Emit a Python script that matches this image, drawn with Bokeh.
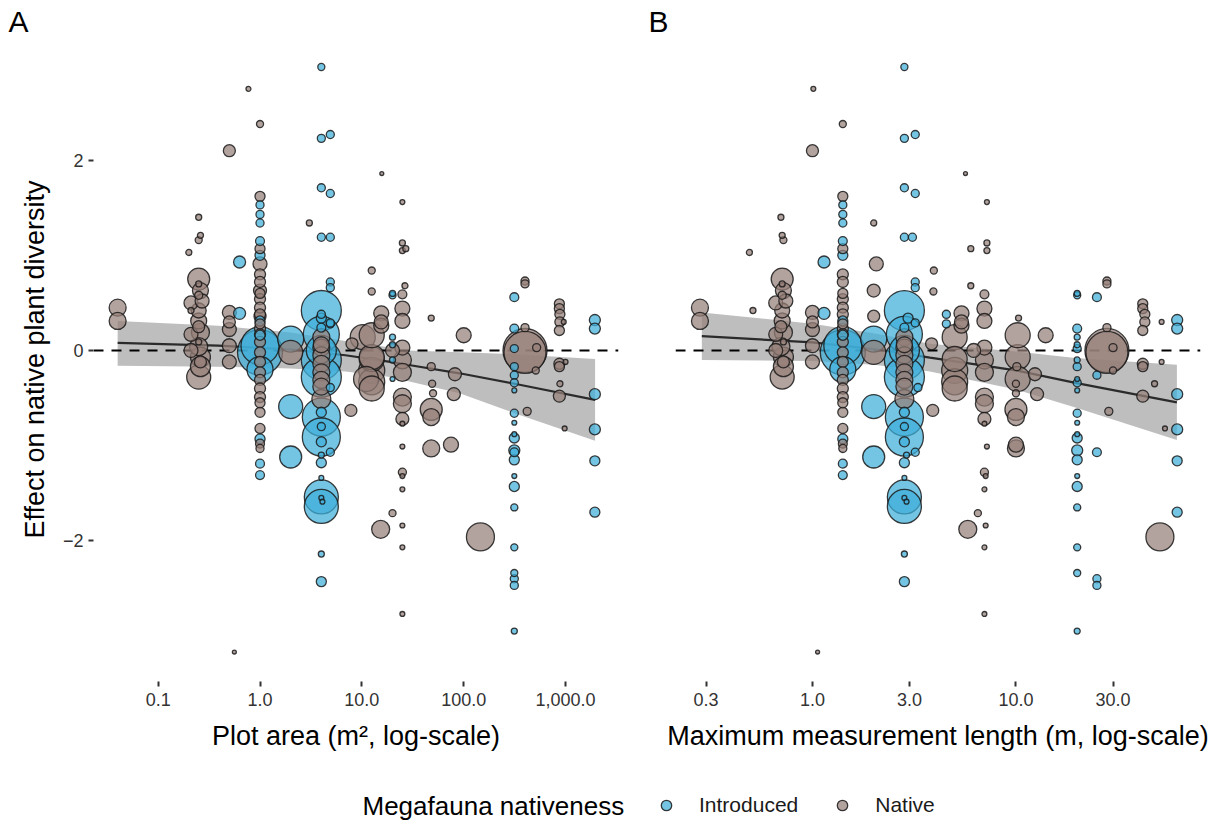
import numpy as np
from bokeh.plotting import figure
from bokeh.models import (Range1d, FixedTicker, CustomJSTickFormatter, ColumnDataSource,
                          Legend, LegendItem, Label, Title)
from bokeh.layouts import column, row
from bokeh.embed import file_html
from bokeh.resources import INLINE

# ---------------- data ----------------
# Native megafauna studies: plot area (m2), max. measurement length (m), effect, weight
nat_area = [0.04, 0.04,
            0.20, 0.25, 0.26, 0.25, 0.25, 0.25, 0.26, 0.21, 0.27, 0.25, 0.21, 0.25, 0.21, 0.26, 0.25, 0.25, 0.21, 0.26, 0.26, 0.25, 0.25, 0.26, 0.25,
            0.50, 0.50, 0.50, 0.50, 0.50, 0.50, 0.56, 0.77,
            1.0, 1.0, 1.0, 1.0, 1.0, 1.0, 1.0, 1.0, 1.0, 1.0, 1.0, 1.0, 1.0, 1.0, 1.0, 1.0, 1.0, 1.0, 1.0, 1.0, 1.0, 1.0, 1.0, 1.0, 1.0, 1.0, 1.0,
            2.0, 3.05, 4.0, 4.0, 4.0, 4.0, 4.0, 4.0, 4.0, 4.0, 4.0,
            12.5, 12.5, 15.7, 15.5, 15.5, 10.2, 8.0, 12.5, 12.5, 12.5, 12.5, 11.0, 12.5, 7.8, 15.3, 20.0, 15.5, 12.5,
            25, 25, 25, 27, 26.5, 25, 25, 25, 25, 25, 25, 25, 25, 25, 25, 25, 25, 25, 25, 25, 25, 25, 20,
            48, 49, 50, 48, 48, 48, 100, 82, 80, 75, 146, 48,
            400, 400, 400, 400, 400, 520, 510, 420, 870, 870, 880, 880, 870, 870, 1000, 870, 870, 980, 880, 960]
nat_length = [0.28, 0.28,
              0.49, 0.70, 0.71, 0.72, 0.71, 0.71, 0.72, 0.66, 0.74, 0.71, 0.51, 0.71, 0.66, 0.72, 0.72, 0.70, 0.66, 0.72, 0.72, 0.71, 0.70, 0.72, 0.71,
              1.00, 1.00, 1.00, 1.00, 1.00, 1.00, 1.06, 1.01,
              1.41, 1.41, 1.41, 2.06, 1.41, 1.41, 2.0, 1.41, 1.41, 1.41, 2.0, 1.41, 1.41, 1.41, 1.41, 1.41, 1.41, 1.41, 1.41, 1.41, 1.41, 1.41, 1.41, 1.41, 1.41, 1.41, 1.41,
              2.0, 2.0, 2.83, 2.83, 2.83, 2.83, 2.83, 2.83, 2.83, 2.83, 2.83,
              3.95, 3.93, 5.65, 5.4, 5.4, 5.0, 3.85, 5.0, 5.0, 10.2, 5.0, 10.2, 10.2, 3.9, 5.8, 6.5, 5.4, 5.0,
              7.2, 7.2, 7.2, 6.0, 6.0, 7.0, 7.0, 7.0, 7.0, 7.0, 7.0, 7.0, 7.0, 7.0, 7.0, 7.2, 7.0, 7.1, 7.0, 7.1, 7.0, 7.0, 6.2,
              10.1, 10.0, 10.0, 10.0, 10.0, 10.0, 14.0, 12.4, 12.7, 10.0, 51.0, 10.3,
              28, 28, 28, 28, 28, 30, 30, 28.6, 42, 42, 43, 43, 42, 42, 52, 42, 42, 54, 48, 52]
nat_effect = [0.45, 0.31,
              1.03, 1.40, 1.21, 1.16, 0.75, 0.70, 0.63, 0.50, 0.52, 0.42, 0.42, 0.31, 0.17, 0.19, 0.09, 0.04, 0.00, -0.07, -0.17, -0.28, 0.25, -0.12, 0.58,
              2.10, 0.40, 0.22, 0.05, -0.12, 0.30, -3.17, 2.75,
              2.38, 1.62, 1.07, 0.91, 0.80, 0.72, 0.63, 0.54, 0.45, 0.38, 0.36, 0.23, 0.17, 0.09, -0.02, -0.12, -0.23, -0.31, -0.40, -0.49, -0.65, -0.82, -0.98, -1.03, 0.28, -0.55, 0.60,
              -0.02, 1.34, 0.14, 0.03, -0.05, -0.14, -0.23, -0.31, -0.38, -0.51, 0.06,
              0.84, 0.62, 1.86, 0.39, 0.26, 0.14, 0.07, -0.09, -0.21, -0.07, -0.33, -0.30, 0.16, -0.63, -1.88, -1.71, 0.30, -0.40,
              1.56, 1.13, 1.05, 1.07, 0.68, 0.59, 0.44, 0.31, 0.03, -0.10, -0.23, -0.49, -0.56, -0.72, -0.77, -1.01, -1.28, -1.32, -1.46, -1.84, -2.07, -2.77, 0.00,
              -0.17, -0.35, -0.45, -0.70, -0.62, -1.03, 0.16, -0.25, -0.46, -0.99, -1.96, 0.34,
              0.00, -0.02, 0.73, 0.70, 0.24, 0.03, -0.21, -0.64, 0.49, 0.44, 0.38, 0.30, 0.21, -0.14, -0.12, -0.17, -0.48, -0.82, -0.35, 0.30]
nat_weight = [10.6, 10.6,
              0.5, 0.5, 0.5, 0.9, 19.5, 0.5, 9.1, 6.5, 6.5, 7.8, 0.5, 9.1, 6.5, 12.2, 0.5, 12.2, 6.5, 15.6, 15.6, 23.9, 4.4, 4.4, 1.4,
              4.4, 6.5, 6.5, 6.5, 6.5, 4.4, 0.05, 0.2,
              0.9, 2.7, 2.7, 6.5, 3.5, 3.5, 5.4, 3.5, 3.5, 3.5, 4.4, 3.5, 3.5, 3.5, 3.5, 3.5, 3.5, 3.5, 3.5, 3.5, 2.7, 2.7, 1.9, 1.4, 2.7, 2.7, 2.7,
              23.9, 0.5, 10.6, 10.6, 10.6, 10.6, 10.6, 10.6, 10.6, 13.8, 9.1,
              0.9, 0.9, 0.05, 7.8, 7.8, 26.2, 4.4, 26.2, 28.6, 26.2, 28.6, 26.2, 26.2, 4.4, 12.2, 0.9, 6.5, 26.2,
              0.2, 0.5, 0.5, 0.5, 0.5, 1.9, 7.8, 7.8, 7.8, 12.2, 12.2, 12.2, 12.2, 5.4, 0.2, 0.2, 1.4, 0.2, 0.2, 0.2, 0.2, 0.2, 6.5,
              1.4, 0.9, 0.9, 10.6, 19.5, 10.6, 7.8, 5.4, 5.4, 7.8, 33.8, 0.5,
              90.9, 82.3, 1.4, 1.4, 1.4, 1.4, 0.9, 1.4, 2.7, 2.7, 2.7, 2.7, 2.7, 3.5, 0.2, 2.7, 4.4, 0.2, 0.5, 0.2]

# Introduced megafauna studies
int_area = [0.63, 0.63,
            1.0, 1.0, 1.0, 1.0, 1.0, 1.0, 1.0, 1.0, 1.0, 1.0, 1.0, 1.0, 1.0,
            2.0, 2.0, 2.0,
            4.0, 4.0, 4.9, 4.0, 4.9, 4.0, 4.9, 4.9, 4.9, 4.0, 4.0, 4.9, 4.0, 4.0, 4.0, 4.0, 4.9, 4.0, 4.0, 4.0, 4.0, 4.0,
            4.9, 4.0, 4.0, 4.0, 4.0, 4.0, 4.0, 4.1, 4.0, 4.0, 4.0, 4.9, 4.0,
            20, 20, 20, 20, 20, 20,
            314, 314, 314, 314, 314, 314, 314, 314, 314, 314, 314, 314, 314, 314, 314, 314, 314, 314, 314, 314, 314, 314,
            1940, 1940, 1940, 1940, 1940, 1940]
int_length = [1.14, 1.14,
              1.41, 1.41, 1.41, 1.41, 1.41, 1.41, 1.41, 1.41, 1.41, 1.41, 1.41, 1.41, 1.41,
              2.0, 2.0, 2.0,
              2.83, 2.83, 3.2, 2.83, 3.2, 2.83, 3.1, 3.2, 3.2, 2.83, 4.55, 4.55, 2.83, 2.83, 2.83, 2.83, 3.3, 2.83, 2.83, 2.83, 2.83, 2.83,
              3.2, 2.9, 2.83, 2.83, 2.83, 2.83, 2.83, 2.9, 2.83, 2.83, 2.83, 3.2, 2.95,
              20, 20, 20, 20, 20, 20,
              25, 20, 20, 25, 20, 20, 20, 20, 20, 20, 20, 25, 20, 20, 20, 20, 20, 20, 25, 25, 20, 20,
              62, 62, 62, 62, 62, 62]
int_effect = [0.93, 0.39,
              1.53, 1.43, 1.34, 1.15, 1.00, 0.31, -0.02, 0.05, -0.20, -0.93, -1.19, -1.31, 0.16,
              0.12, -0.59, -1.12,
              2.98, 2.23, 2.27, 1.71, 1.65, 1.19, 1.19, 0.72, 0.66, 0.42, 0.38, 0.28, 0.24, 0.17, -0.10, -0.28, -0.39, -0.65, -0.70, -0.80, -0.91, -0.96,
              -1.07, -1.10, -1.18, -1.34, -1.54, -1.64, -1.55, -1.59, -2.14, -2.43, 0.00, 0.29, 0.34,
              0.58, 0.60, 0.14, 0.06, -0.10, -0.30,
              0.56, 0.23, -0.17, -0.26, -0.34, -0.42, -0.66, -0.76, -0.88, -0.92, -1.05, -1.07, -1.15, -1.32, -1.43, -1.65, -2.07, -2.34, -2.40, -2.47, -2.95, 0.02,
              0.32, 0.23, -0.46, -0.83, -1.16, -1.70]
int_weight = [4.4, 4.4,
              1.4, 1.4, 1.4, 1.9, 2.7, 2.7, 95.4, 66.3, 28.6, 2.7, 1.9, 1.9, 2.7,
              28.6, 23.9, 19.5,
              0.9, 1.4, 1.4, 1.4, 1.4, 1.4, 1.4, 1.4, 1.4, 74.0, 1.4, 1.4, 1.9, 58.9, 74.0, 74.0, 1.4, 2.7, 66.3, 1.4, 66.3, 2.7,
              1.4, 0.5, 2.7, 0.2, 52.0, 52.0, 0.2, 0.2, 0.5, 2.7, 39.4, 1.4, 2.7,
              0.9, 0.5, 0.5, 0.5, 0.5, 0.2,
              1.9, 1.9, 1.4, 1.4, 1.4, 0.2, 1.4, 0.2, 0.2, 2.7, 3.5, 1.9, 2.7, 0.2, 2.7, 0.9, 0.9, 0.9, 1.4, 1.4, 0.5, 1.4,
              3.5, 3.5, 3.5, 3.5, 2.7, 2.7]

# Fitted trend and 95% band
fitA_area = [0.04, 0.39, 2.0, 6.9, 19.0, 28.0, 91.0, 316.0, 1950.0]
fitA_mid = [0.08, 0.05, 0.01, -0.05, -0.12, -0.15, -0.24, -0.35, -0.52]
fitA_hi = [0.31, 0.26, 0.19, 0.10, 0.03, 0.00, -0.02, -0.04, -0.09]
fitA_lo = [-0.16, -0.17, -0.19, -0.22, -0.28, -0.32, -0.45, -0.66, -0.95]

fitB_len = [0.286, 1.0, 2.0, 3.78, 10.0, 19.6, 61.8]
fitB_mid = [0.15, 0.085, 0.015, -0.075, -0.21, -0.34, -0.545]
fitB_hi = [0.40, 0.28, 0.18, 0.07, -0.01, -0.08, -0.15]
fitB_lo = [-0.10, -0.11, -0.15, -0.22, -0.41, -0.60, -0.94]

ticksA = [0.1, 1, 10, 100, 1000]
ticksB = [0.3, 1, 3, 10, 30]
ticksY = [-2, 0, 2]
groups = ["Introduced", "Native"]

assert len(nat_area) == len(nat_length) == len(nat_effect) == len(nat_weight)
assert len(int_area) == len(int_length) == len(int_effect) == len(int_weight)

# ---------------- styling ----------------
COL_INT = "#3FAFDA"
COL_NAT = "#958079"
FONT = "Liberation Sans"
TITLE_SIZE = "27px"
TICK_SIZE = "18px"


def size_of(w):
    return 3 + 4.3 * np.sqrt(np.asarray(w, dtype=float))


def point_source(nat_x, int_x):
    x = np.concatenate([np.asarray(int_x, float), np.asarray(nat_x, float)])
    y = np.concatenate([np.asarray(int_effect, float), np.asarray(nat_effect, float)])
    s = size_of(np.concatenate([int_weight, nat_weight]))
    c = np.array([COL_INT] * len(int_x) + [COL_NAT] * len(nat_x))
    order = np.argsort(-s, kind="stable")
    return ColumnDataSource(dict(x=x[order], y=y[order], size=s[order], color=c[order]))


def make_panel(nat_x, int_x, fx, fmid, flo, fhi, xlo, xhi, ticks, xlabel, letter,
               width, bleft, bright, letter_offset, show_y):
    p = figure(width=width, height=781, x_axis_type="log",
               x_range=Range1d(xlo, xhi), y_range=Range1d(-3.48, 3.29),
               output_backend="svg", toolbar_location=None,
               min_border_left=bleft, min_border_right=bright,
               min_border_top=37, min_border_bottom=100)
    p.outline_line_color = None
    p.xgrid.visible = False
    p.ygrid.visible = False
    p.background_fill_color = "white"
    p.border_fill_color = "white"

    p.varea(x=fx, y1=flo, y2=fhi, fill_color="#BEBEBE", fill_alpha=1.0)
    p.line(x=fx, y=fmid, line_color="#2b2b2b", line_width=2.2)
    p.hspan(y=[0], line_color="black", line_width=2, line_dash="10 8")

    src = point_source(nat_x, int_x)
    p.scatter("x", "y", source=src, size="size", fill_color="color", fill_alpha=0.72,
              line_color="#1a1a1a", line_alpha=0.85, line_width=1.3)

    ax = p.xaxis[0]
    ax.ticker = FixedTicker(ticks=ticks, minor_ticks=[])
    ax.formatter = CustomJSTickFormatter(code="return tick.toLocaleString('en-US', {minimumFractionDigits: 1, maximumFractionDigits: 1});")
    ax.axis_label = xlabel
    ax.axis_label_text_font = FONT
    ax.axis_label_text_font_size = TITLE_SIZE
    ax.axis_label_text_font_style = "normal"
    ax.axis_label_text_color = "black"
    ax.axis_label_standoff = 12
    ax.major_label_text_font = FONT
    ax.major_label_text_font_size = TICK_SIZE
    ax.major_label_text_color = "#333333"
    ax.major_label_standoff = 6
    ax.axis_line_color = None
    ax.major_tick_line_color = "#333333"
    ax.major_tick_line_width = 2
    ax.major_tick_in = 0
    ax.major_tick_out = 5
    ax.minor_tick_line_color = None

    ay = p.yaxis[0]
    if show_y:
        ay.ticker = FixedTicker(ticks=ticksY, minor_ticks=[])
        ay.axis_label = "Effect on native plant diversity"
        ay.axis_label_text_font = FONT
        ay.axis_label_text_font_size = TITLE_SIZE
        ay.axis_label_text_font_style = "normal"
        ay.axis_label_text_color = "black"
        ay.axis_label_standoff = 10
        ay.major_label_text_font = FONT
        ay.major_label_text_font_size = TICK_SIZE
        ay.major_label_text_color = "#333333"
        ay.major_label_standoff = 5
        ay.axis_line_color = None
        ay.major_tick_line_color = "#333333"
        ay.major_tick_line_width = 2
        ay.major_tick_in = 0
        ay.major_tick_out = 5
        ay.minor_tick_line_color = None
    else:
        ay.visible = False

    t = Title(text=letter, align="left", offset=letter_offset, standoff=0,
              text_font=FONT, text_font_size="30px", text_font_style="normal",
              text_color="black")
    p.add_layout(t, "above")
    return p


pA = make_panel(nat_area, int_area, fitA_area, fitA_mid, fitA_lo, fitA_hi,
                10 ** -1.635, 10 ** 3.52, ticksA, "Plot area (m\u00b2, log-scale)", "A",
                620, 93, 2, -85, True)
pB = make_panel(nat_length, int_length, fitB_len, fitB_mid, fitB_lo, fitB_hi,
                10 ** -0.673, 10 ** 1.907, ticksB, "Maximum measurement length (m, log-scale)", "B",
                600, 55, 20, -27, False)

# ---------------- legend strip ----------------
leg = figure(width=1220, height=44, x_range=Range1d(0, 1220), y_range=Range1d(0, 44),
             output_backend="svg", toolbar_location=None,
             x_axis_location=None, y_axis_location=None,
             min_border=0, min_border_left=0, min_border_right=0,
             min_border_top=0, min_border_bottom=0)
leg.outline_line_color = None
leg.xgrid.visible = False
leg.ygrid.visible = False
items = []
for g, c in zip(groups, [COL_INT, COL_NAT]):
    # key-only renderer: one undefined (NaN) point so nothing is drawn in the strip itself
    r = leg.scatter(x=[np.nan], y=[np.nan], size=10, fill_color=c, fill_alpha=0.72,
                    line_color="#1a1a1a", line_alpha=0.85, line_width=1.3)
    items.append(LegendItem(label=g, renderers=[r]))
legend = Legend(items=items, orientation="horizontal", location=(653, 7),
                glyph_width=26, glyph_height=26, label_standoff=20, spacing=31,
                padding=0, margin=0, border_line_color=None, background_fill_alpha=0,
                label_text_font=FONT, label_text_font_size="21px", label_text_color="#1a1a1a")
leg.add_layout(legend, "center")
leg.add_layout(Label(x=362, y=20, text="Megafauna nativeness", text_baseline="middle",
                     text_align="left", text_font=FONT, text_font_size="26px", text_color="black"))

layout = column(row(pA, pB), leg)
open("out.html", "w").write(file_html(layout, INLINE))
